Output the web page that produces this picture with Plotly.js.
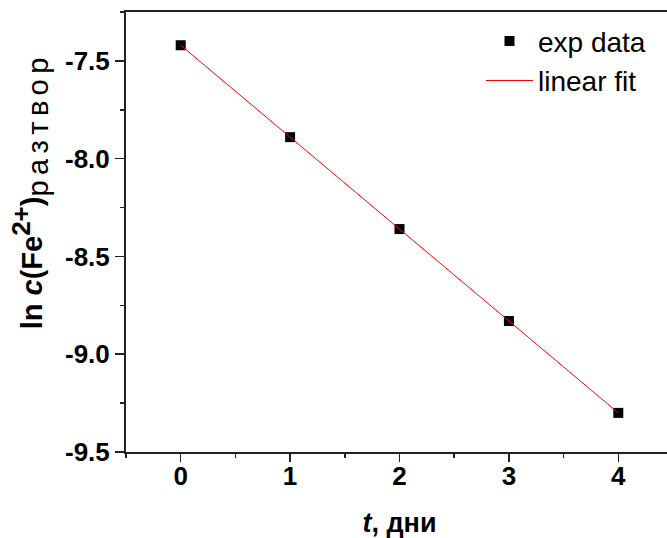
<!DOCTYPE html>
<html>
<head>
<meta charset="utf-8">
<script src="https://cdn.plot.ly/plotly-3.0.1.min.js"></script>
<style>
html, body { margin: 0; padding: 0; overflow: hidden; background: #fff; }
#chart { width: 700px; height: 538px; }
</style>
</head>
<body>
<div id="chart"></div>
<script>
const days = [0, 1, 2, 3, 4];
const lnC = [-7.42, -7.89, -8.36, -8.83, -9.30];
const fitX = [0, 4];
const fitY = [-7.42, -9.30];
const xTicks = [0, 1, 2, 3, 4];
const yTicks = [-9.5, -9.0, -8.5, -8.0, -7.5];
const yTickText = ['-9.5', '-9.0', '-8.5', '-8.0', '-7.5'];

const FONT = 'Liberation Sans, Arial, sans-serif';

const traces = [
  {
    x: days, y: lnC, name: 'exp data', type: 'scatter', mode: 'markers',
    marker: { symbol: 'square', size: 10, color: '#000', line: { width: 0 } }
  },
  {
    x: fitX, y: fitY, name: 'linear fit', type: 'scatter', mode: 'lines',
    line: { color: '#ff0000', width: 1 }
  }
];

const layout = {
  width: 700, height: 538,
  margin: { l: 126, r: 27, t: 12, b: 86 },
  paper_bgcolor: '#fff', plot_bgcolor: '#fff',
  font: { family: FONT, color: '#000' },
  showlegend: true,
  legend: {
    x: 0.649, xanchor: 'left', y: 0.99, yanchor: 'top',
    font: { size: 28, family: FONT, color: '#000' },
    bgcolor: 'rgba(0,0,0,0)', itemwidth: 47, tracegroupgap: 0
  },
  xaxis: {
    range: [-0.5, 4.5],
    tickvals: xTicks, ticktext: xTicks.map(String),
    ticks: 'outside', ticklen: 8, tickwidth: 1.5, tickcolor: '#222',
    minor: { dtick: 0.5, ticks: 'outside', ticklen: 4, tickwidth: 1.5, tickcolor: '#222' },
    showline: true, linecolor: '#222', linewidth: 2, mirror: true,
    showgrid: false, zeroline: false, ticklabelstandoff: -8,
    tickfont: { size: 26, family: FONT, weight: 'bold' },
    title: { text: '<b><i>t</i>, дни</b>', font: { size: 27, family: FONT }, standoff: 28 }
  },
  yaxis: {
    range: [-9.5, -7.25],
    tickvals: yTicks, ticktext: yTickText,
    ticks: 'outside', ticklen: 9, tickwidth: 1.5, tickcolor: '#222',
    minor: { dtick: 0.25, ticks: 'outside', ticklen: 4, tickwidth: 1.5, tickcolor: '#222' },
    showline: true, linecolor: '#222', linewidth: 2, mirror: false,
    showgrid: false, zeroline: false,
    tickfont: { size: 26, family: FONT, weight: 'bold' }
  },
  annotations: [
    {
      xref: 'paper', yref: 'paper', x: -0.175, y: 0.593,
      xanchor: 'center', yanchor: 'middle', textangle: -90, showarrow: false,
      font: { size: 29, family: FONT, color: '#000' },
      text: '<b>ln <i>c</i>(Fe<sup><span style="font-size:26px">2+</span></sup>)</b><sub><span style="font-size:29px;letter-spacing:5.5px">разтвор</span></sub>'
    }
  ]
};

Plotly.newPlot('chart', traces, layout, { displayModeBar: false, staticPlot: true });
</script>
</body>
</html>
